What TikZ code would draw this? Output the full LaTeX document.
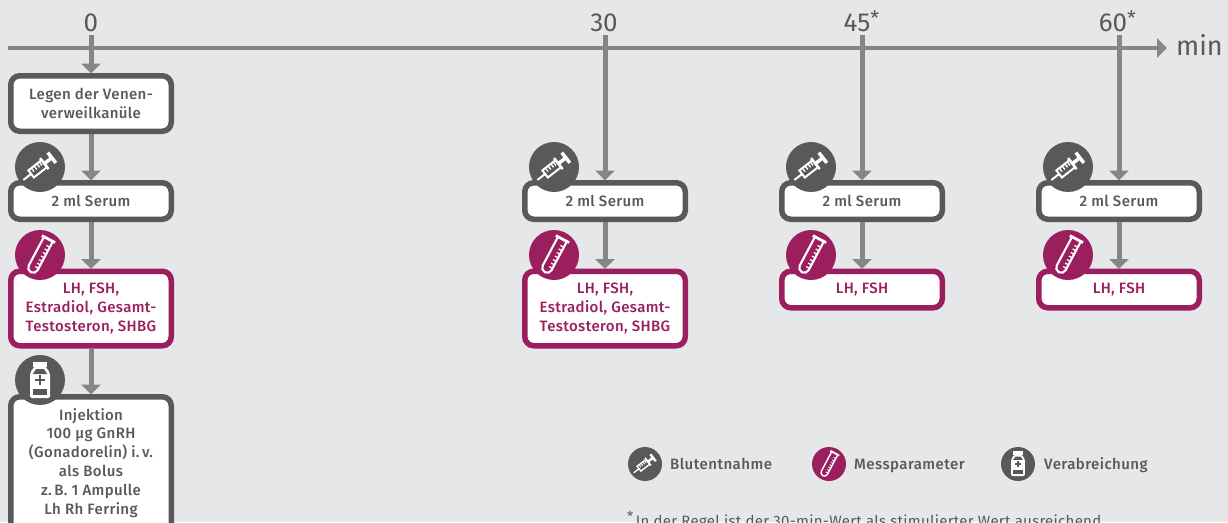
\documentclass[tikz,border=0pt]{standalone}
\usepackage{fontspec}
\setmainfont{Fira Sans Medium}
\newfontfamily\regfont{Fira Sans}
\usetikzlibrary{arrows.meta}
\definecolor{bg}{HTML}{E6E7E9}
\definecolor{dk}{HTML}{58595B}
\definecolor{gr}{HTML}{848688}
\definecolor{mg}{HTML}{9B1F5F}
\newcommand\syringeicon[3]{\begin{scope}[shift={(#1,#2)},x=#3 pt,y=#3 pt]
 \fill[dk] (0,0) circle (1);
 \begin{scope}[rotate=38,draw=white,line width=#3*0.08pt]
  \draw[line cap=round] (-0.82,0) -- (-0.45,0);
  \draw (-0.45,-0.18) rectangle (0.22,0.18);
  \foreach \t in {-0.3,-0.16,-0.02,0.1}{\draw[line width=#3*0.055pt] (\t,0.18) -- (\t,0);}
  \draw[line width=#3*0.1pt] (0.22,-0.28) -- (0.22,0.28);
  \draw[line width=#3*0.14pt] (0.22,0) -- (0.6,0);
  \draw[line width=#3*0.14pt] (0.6,-0.26) -- (0.6,0.26);
 \end{scope}
\end{scope}}
\newcommand\tubeicon[3]{\begin{scope}[shift={(#1,#2)},x=#3 pt,y=#3 pt]
 \fill[mg] (0,0) circle (1);
 \begin{scope}[rotate=-28,draw=white,line width=#3*0.085pt]
  \draw (-0.2,0.68) -- (-0.2,-0.58) arc[start angle=180,end angle=360,radius=0.2] -- (0.2,0.68);
  \draw[line width=#3*0.11pt] (-0.3,0.72) -- (0.3,0.72);
  \foreach \t in {-0.5,-0.34,-0.18,-0.02,0.14,0.3,0.46}{\draw[line width=#3*0.05pt] (0.05,\t) -- (0.18,\t);}
 \end{scope}
\end{scope}}
\newcommand\bottleicon[3]{\begin{scope}[shift={(#1,#2)},x=#3 pt,y=#3 pt]
 \fill[dk] (0,0) circle (1);
 \fill[white] (-0.27,0.74) rectangle (0.27,0.52);
 \fill[white,rounded corners=#3*0.08pt] (-0.2,0.56) -- (-0.4,0.3) -- (-0.4,-0.72) -- (0.4,-0.72) -- (0.4,0.3) -- (0.2,0.56) -- cycle;
 \fill[dk] (-0.15,0.44) -- (-0.29,0.24) -- (0.29,0.24) -- (0.15,0.44) -- cycle;
 \fill[dk] (-0.29,-0.34) rectangle (0.29,-0.6);
 \fill[dk] (-0.19,-0.05) rectangle (0.19,0.05);
 \fill[dk] (-0.05,-0.19) rectangle (0.05,0.19);
\end{scope}}
\tikzset{
 flowbox/.style={draw=dk,fill=white,line width=5.5pt,rounded corners=9pt,minimum width=160.5pt,
   inner sep=0pt,align=center,text=dk,font=\fontsize{15}{19}\selectfont\addfontfeatures{LetterSpace=2.5}},
 paramline/.style={flowbox,draw=mg,text=mg},
 flowarrow/.style={draw=gr,line width=5pt,-{Triangle[width=19pt,length=10pt]},shorten >=-0.5pt},
 axisline/.style={draw=gr,line width=4.5pt,-{Triangle[width=19pt,length=10pt]}},
 timelabel/.style={text=dk,font=\regfont\fontsize{26}{26}\selectfont,inner sep=0pt,anchor=base},
 legendtext/.style={text=dk,anchor=base west,inner sep=0pt,font=\fontsize{15}{18}\selectfont\addfontfeatures{LetterSpace=3}},
}
\newcommand\timestar{\rlap{\raisebox{6pt}{\fontsize{20}{20}\selectfont *}}}
\begin{document}
\begin{tikzpicture}[x=1pt,y=-1pt]
\useasboundingbox (0,0) rectangle (1228,522);
\clip (0,0) rectangle (1228,522);
\fill[bg] (0,0) rectangle (1228,522);
% axis
\coordinate (axL) at (8,48);
\coordinate (axR) at (1167,48);
\draw[axisline] (axL) -- (axR);
\node[text=dk,anchor=west,inner sep=0pt,font=\regfont\fontsize{27}{27}\selectfont] (min) at (1176,45) {min};
% time labels
\node[timelabel] (t0) at (91,31) {0};
\node[timelabel] (t30) at (604,31) {30};
\node[timelabel] (t45) at (857,31) {45\timestar};
\node[timelabel] (t60) at (1113,31) {60\timestar};
\coordinate (s0) at (91,35);
\coordinate (s30) at (605,35);
\coordinate (s45) at (862,35);
\coordinate (s60) at (1119,35);
% column 0
\node[flowbox,minimum height=55.5pt] (a1) at (91,103.5) {Legen der Venen-\\verweilkanüle};
\node[flowbox,minimum height=36.5pt] (a2) at (91,201) {2 ml Serum};
\node[paramline,minimum height=74.5pt] (a3) at (91,308.5) {LH, FSH,\\Estradiol, Gesamt-\\Testosteron, SHBG};
\node[flowbox,minimum height=150pt,anchor=north] (a4) at (91,394) {};
\node[text=dk,align=center,inner sep=0pt,anchor=north,font=\fontsize{15}{18.8}\selectfont\addfontfeatures{LetterSpace=2.5}] (a4t) at (91,408) {Injektion\\100 µg GnRH\\(Gonadorelin) i.\,v.\\als Bolus\\z.\,B. 1 Ampulle\\Lh Rh Ferring};
% column 30
\node[flowbox,minimum height=36.5pt] (b2) at (605,201) {2 ml Serum};
\node[paramline,minimum height=74.5pt] (b3) at (605,308.5) {LH, FSH,\\Estradiol, Gesamt-\\Testosteron, SHBG};
% column 45
\node[flowbox,minimum height=36.5pt] (c2) at (862,201) {2 ml Serum};
\node[paramline,minimum height=36.5pt] (c3) at (862,289.5) {LH, FSH};
% column 60
\node[flowbox,minimum height=36.5pt] (d2) at (1119,201) {2 ml Serum};
\node[paramline,minimum height=36.5pt] (d3) at (1119,289.5) {LH, FSH};
% connectors
\draw[flowarrow] (s0) -- (a1.north);
\draw[flowarrow] (a1.south) -- (a2.north);
\draw[flowarrow] (a2.south) -- (a3.north);
\draw[flowarrow] (a3.south) -- (a4.north);
\draw[flowarrow] (s30) -- (b2.north);
\draw[flowarrow] (b2.south) -- (b3.north);
\draw[flowarrow] (s45) -- (c2.north);
\draw[flowarrow] (c2.south) -- (c3.north);
\draw[flowarrow] (s60) -- (d2.north);
\draw[flowarrow] (d2.south) -- (d3.north);
% icons
\syringeicon{40}{167}{25}
\tubeicon{40}{255}{25}
\bottleicon{40}{380}{25}
\syringeicon{554}{167}{25}
\tubeicon{554}{255}{25}
\syringeicon{811}{167}{25}
\tubeicon{811}{255}{25}
\syringeicon{1068}{167}{25}
\tubeicon{1068}{255}{25}
% legend
\syringeicon{645}{464}{17}
\node[legendtext] (l1) at (670,469.5) {Blutentnahme};
\tubeicon{829}{464}{17}
\node[legendtext] (l2) at (854,469.5) {Messparameter};
\bottleicon{1018}{464}{17}
\node[legendtext] (l3) at (1044,469.5) {Verabreichung};
\node[text=dk,anchor=base west,inner sep=0pt,font=\regfont\fontsize{15}{18}\selectfont\addfontfeatures{LetterSpace=2}] (fn) at (627,526.5) {\raisebox{5pt}{\fontsize{14}{14}\selectfont *}\,In der Regel ist der 30-min-Wert als stimulierter Wert ausreichend};
\end{tikzpicture}
\end{document}
